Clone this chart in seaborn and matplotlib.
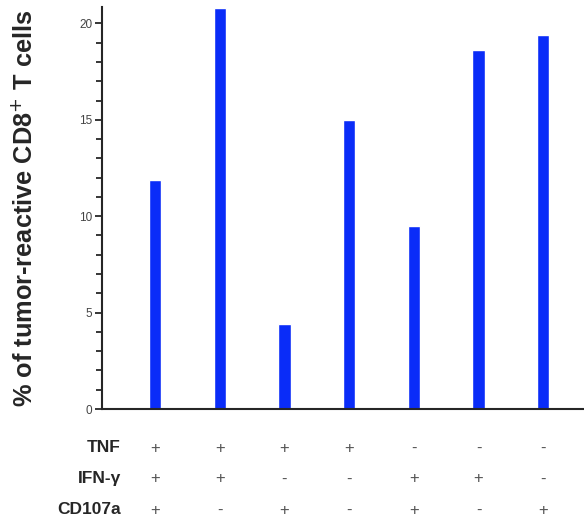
import matplotlib
matplotlib.use("Agg")
import matplotlib.pyplot as plt
import matplotlib.transforms as mtransforms
from matplotlib.ticker import MultipleLocator
import seaborn as sns
import pandas as pd

# dados
grupos = ["G1", "G2", "G3", "G4", "G5", "G6", "G7"]
valores = [11.9, 20.8, 4.4, 15.0, 9.5, 18.6, 19.4]
tnf = ["+", "+", "+", "+", "-", "-", "-"]
ifng = ["+", "+", "-", "-", "+", "+", "-"]
cd107a = ["+", "-", "+", "-", "+", "-", "+"]
linhas = ["TNF", "IFN-γ", "CD107a"]

sns.set_style("ticks")
plt.rcParams["font.family"] = ["Liberation Sans", "DejaVu Sans"]

df = pd.DataFrame({"grupo": grupos, "valor": valores})

fig = plt.figure(figsize=(5.84, 5.21), dpi=100)
ax = fig.add_axes([102 / 584, 112 / 521, 482 / 584, 402 / 521])

sns.barplot(data=df, x="grupo", y="valor", color="#0a2cf8", saturation=1,
            width=0.19, ax=ax)

ax.set_xlim(-0.82, 6.63)
ax.set_ylim(0, 20.85)
ax.yaxis.set_major_locator(MultipleLocator(5))
ax.yaxis.set_minor_locator(MultipleLocator(1))
ax.tick_params(axis="y", which="major", length=5, width=1.3, labelsize=8.5,
               labelcolor="#444444", pad=2)
ax.tick_params(axis="y", which="minor", length=4, width=1.3)
ax.tick_params(axis="x", length=0, labelbottom=False)
ax.set_xlabel("")
ax.set_ylabel("% of tumor-reactive CD8$^{+}$ T cells", fontsize=18.3,
              fontweight="bold")
ax.yaxis.set_label_coords(-0.135, 0.5)
for lado in ["top", "right"]:
    ax.spines[lado].set_visible(False)
ax.spines["left"].set_linewidth(1.5)
ax.spines["bottom"].set_linewidth(1.5)

# tabela de marcadores abaixo do eixo
trans = mtransforms.blended_transform_factory(ax.transData, fig.transFigure)
ys = [1 - 448 / 521, 1 - 479 / 521, 1 - 510 / 521]
for nome, sinais, y in zip(linhas, [tnf, ifng, cd107a], ys):
    fig.text(121 / 584, y, nome, ha="right", va="center", fontsize=12.5,
             fontweight="bold")
    for i, s in enumerate(sinais):
        ax.text(i, y, s, transform=trans, ha="center", va="center",
                fontsize=12, color="#555555", clip_on=False)

fig.savefig("out.png", dpi=100)
